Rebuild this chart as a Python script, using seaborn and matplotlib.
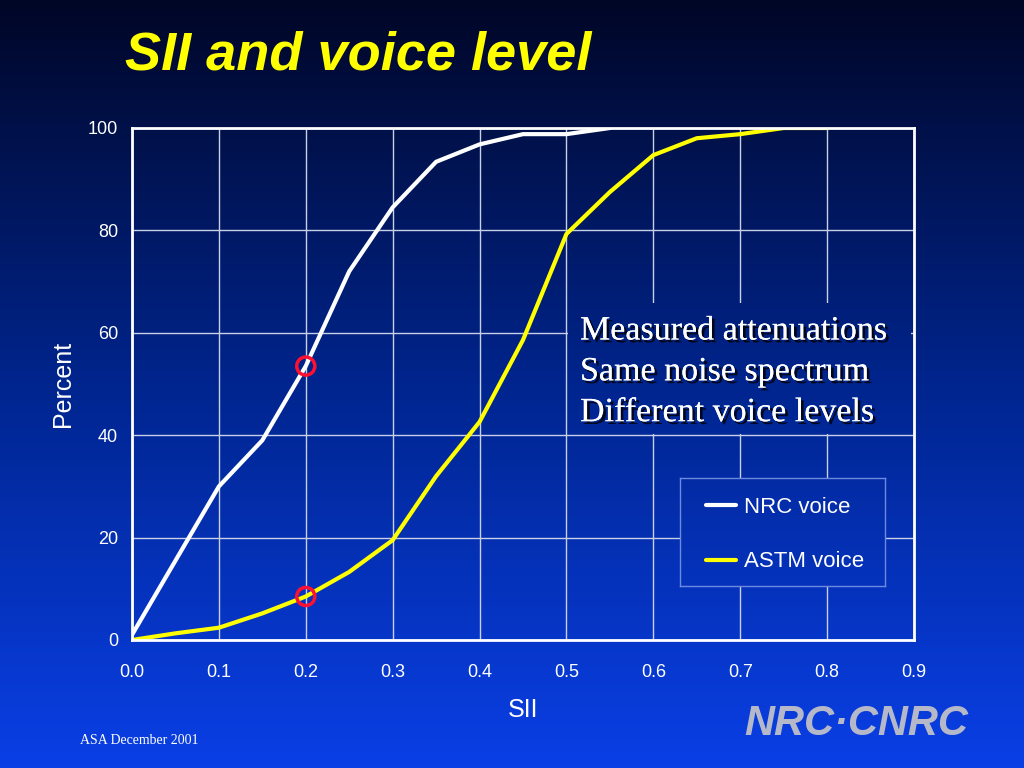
import numpy as np
import pandas as pd
import matplotlib
matplotlib.use("Agg")
import matplotlib.pyplot as plt
import matplotlib.patheffects as pe
from matplotlib.colors import LinearSegmentedColormap
import seaborn as sns

# datos
sii_nrc = [0.0, 0.05, 0.1, 0.15, 0.2, 0.25, 0.3, 0.35, 0.4, 0.45, 0.5, 0.55]
pct_nrc = [1.0, 15.5, 30.0, 39.0, 53.5, 72.0, 84.5, 93.4, 96.8, 98.8, 98.8, 100.0]

sii_astm = [0.0, 0.05, 0.1, 0.15, 0.2, 0.25, 0.3, 0.35, 0.4, 0.45, 0.5, 0.55, 0.6, 0.65, 0.7, 0.75, 0.8]
pct_astm = [0.0, 1.3, 2.4, 5.2, 8.5, 13.3, 19.5, 32.0, 42.6, 58.6, 79.3, 87.5, 94.7, 98.0, 98.8, 100.0, 100.0]

marca_x = [0.2, 0.2]
marca_y = [53.5, 8.5]

x_ticks = [0.0, 0.1, 0.2, 0.3, 0.4, 0.5, 0.6, 0.7, 0.8, 0.9]
y_ticks = [0, 20, 40, 60, 80, 100]

df_nrc = pd.DataFrame({"SII": sii_nrc, "Percent": pct_nrc})
df_astm = pd.DataFrame({"SII": sii_astm, "Percent": pct_astm})

sns.set_style("white")
plt.rcParams["font.family"] = ["Liberation Sans", "DejaVu Sans"]

fig = plt.figure(figsize=(10.24, 7.68), dpi=100)
W, H = 1024, 768

# fondo degradado
cmap = LinearSegmentedColormap.from_list("fondo", ["#000626", "#00258e", "#0a3fe6"])
bg = fig.add_axes([0, 0, 1, 1], zorder=-10)
bg.imshow(np.linspace(0, 1, 768).reshape(-1, 1), aspect="auto", cmap=cmap,
          vmin=0, vmax=1, extent=[0, 1, 0, 1])
bg.axis("off")


def caja_degradado(x0, y0, x1, y1, borde=None):
    # rectangulo con el mismo degradado del fondo (tapa la rejilla)
    c = fig.add_axes([x0 / W, 1 - y1 / H, (x1 - x0) / W, (y1 - y0) / H], zorder=1)
    c.imshow(np.linspace(y0 / H, y1 / H, 200).reshape(-1, 1), aspect="auto", cmap=cmap,
             vmin=0, vmax=1, extent=[0, 1, 0, 1])
    c.set_xticks([])
    c.set_yticks([])
    for s in c.spines.values():
        if borde:
            s.set_color(borde)
            s.set_linewidth(1)
        else:
            s.set_visible(False)
    return c


ax = fig.add_axes([132 / W, 128 / H, 782 / W, 512 / H])
ax.patch.set_alpha(0)

sns.lineplot(data=df_nrc, x="SII", y="Percent", color="white", linewidth=3, ax=ax, label="NRC voice")
sns.lineplot(data=df_astm, x="SII", y="Percent", color="#ffff00", linewidth=3, ax=ax, label="ASTM voice")
ax.scatter(marca_x, marca_y, s=170, facecolors="none", edgecolors="#ff1030", linewidths=2.5, zorder=5)

ax.set_xlim(0, 0.9)
ax.set_ylim(0, 100)
ax.set_xticks(x_ticks)
ax.set_xticklabels([f"{v:.1f}" for v in x_ticks])
ax.set_yticks(y_ticks)
ax.grid(True, color="#c8d0e8", linewidth=1)
ax.set_axisbelow(True)
for s in ax.spines.values():
    s.set_color("white")
    s.set_linewidth(2)
ax.tick_params(colors="white", labelsize=13, length=0)
ax.tick_params(axis="x", pad=17.5)
ax.tick_params(axis="y", pad=10)
ax.set_xlabel("SII", color="white", fontsize=18, labelpad=12)
ax.set_ylabel("Percent", color="white", fontsize=18, labelpad=9)

# leyenda
caja_degradado(680, 478, 885, 586, borde="#6c8ae0")
h, l = ax.get_legend_handles_labels()
ax.legend_.remove() if ax.legend_ else None
leg = fig.legend(h, l, loc="upper left", bbox_to_anchor=(706 / W, 1 - 497 / H),
                 fontsize=16, frameon=False, borderaxespad=0, borderpad=0,
                 labelspacing=1.5, handlelength=1.35, handletextpad=0.36)
leg.set_zorder(5)
for t in leg.get_texts():
    t.set_color("white")

# cuadro de texto
caja_degradado(568, 303, 911, 434)
sombra = [pe.withSimplePatchShadow(offset=(2, -2), shadow_rgbFace="black", alpha=0.8), pe.Normal()]
fig.text(580 / W, 1 - 316 / H,
         "Measured attenuations\nSame noise spectrum\nDifferent voice levels",
         family="Liberation Serif", fontsize=24.5, color="white", va="top", ha="left",
         linespacing=1.44, path_effects=sombra, zorder=5)

fig.text(125 / W, 1 - 56 / H, "SII and voice level", color="#ffff00", fontsize=39,
         fontweight="bold", fontstyle="italic", va="center", ha="left")
fig.text(80 / W, 1 - 741 / H, "ASA December 2001", color="white", fontsize=10,
         family="Liberation Serif", va="center", ha="left")
fig.text(968 / W, 1 - 724 / H, "NRC·CNRC", color="#b4b8c8", fontsize=30,
         fontweight="bold", fontstyle="italic", va="center", ha="right")

fig.savefig("out.png", dpi=100)
